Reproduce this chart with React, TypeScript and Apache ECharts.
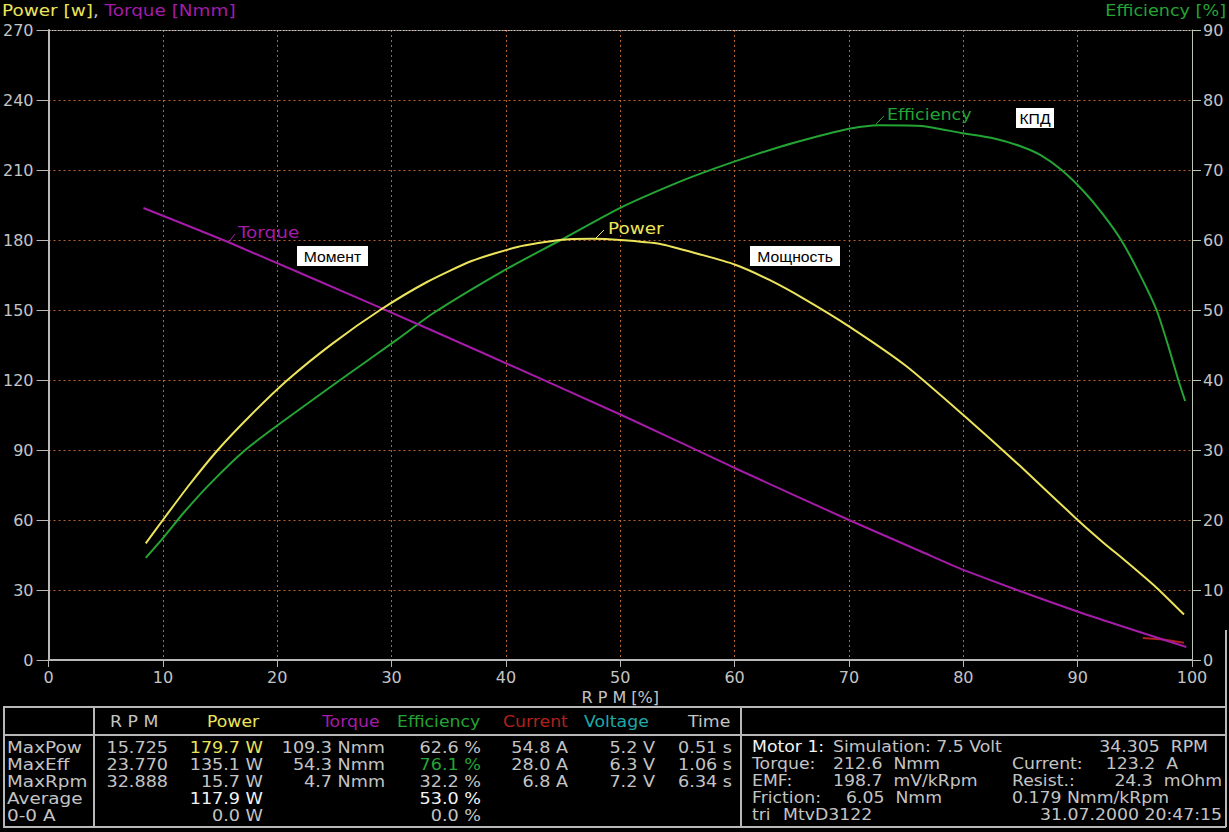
import React, { useEffect, useRef } from "react";
import * as echarts from "echarts";

// ---------- chart data ----------
const rpmPower = [8.5, 10, 12.3, 14.8, 17.7, 20.9, 24.8, 29, 33.1, 37, 41, 44.7, 47.5, 50, 53.5, 57, 60, 63, 66, 70, 75, 80, 85, 90, 92.2, 94.3, 96.9, 99.3];
const powerW = [50, 60, 75, 90, 105, 120, 135.5, 150, 162, 171, 177, 180, 180.5, 180, 178.3, 173.8, 169.5, 163, 155, 143, 126, 105, 83, 60, 50.5, 42, 31, 19.5];

const rpmEff = [8.5, 10.1, 11.8, 14.2, 17.2, 20, 25.5, 30.5, 33.6, 40, 44.8, 50, 55, 58.4, 62, 65.2, 70, 72.6, 76.4, 79.8, 82.7, 85, 86.8, 88.6, 90.5, 92.2, 93.8, 95.4, 96.9, 97.9, 98.8, 99.4];
const effPct = [14.6, 17.6, 21, 25.3, 30, 33.5, 40, 45.8, 49.5, 55.8, 60, 64.6, 68.2, 70.3, 72.3, 73.9, 75.9, 76.4, 76.3, 75.3, 74.5, 73.4, 72.1, 70, 67, 63.7, 60, 55.2, 50, 45, 40, 37];

const rpmTorque = [8.3, 15.9, 29, 37.8, 50.1, 60, 70, 76.4, 80, 90.1, 99.5];
const torqueNmm = [193.7, 178.7, 151, 132, 105, 82.3, 60, 46.3, 38.6, 20.6, 5.6];

const rpmCurrent = [95.7, 97.5, 99.3];
const currentVal = [9.4, 8.8, 7.4];

// axis ranges
const xRange = { min: 0, max: 100, interval: 10 };
const leftRange = { min: 0, max: 270, interval: 30 };
const rightRange = { min: 0, max: 90, interval: 10 };

// ---------- table data ----------
const tableHeaders = ["R P M", "Power", "Torque", "Efficiency", "Current", "Voltage", "Time"];
const rowLabels = ["MaxPow", "MaxEff", "MaxRpm", "Average", "0-0 A"];
const rpmCol = ["15.725", "23.770", "32.888", "", ""];
const powerCol = ["179.7 W", "135.1 W", "15.7 W", "117.9 W", "0.0 W"];
const torqueCol = ["109.3 Nmm", "54.3 Nmm", "4.7 Nmm", "", ""];
const effCol = ["62.6 %", "76.1 %", "32.2 %", "53.0 %", "0.0 %"];
const currentCol = ["54.8 A", "28.0 A", "6.8 A", "", ""];
const voltageCol = ["5.2 V", "6.3 V", "7.2 V", "", ""];
const timeCol = ["0.51 s", "1.06 s", "6.34 s", "", ""];

const motorLeft = ["Motor 1:", "Torque:", "EMF:", "Friction:", "tri"];
const motorMid = ["Simulation: 7.5 Volt", "212.6  Nmm", "198.7  mV/kRpm", "6.05  Nmm", "MtvD3122"];
const motorRightLabel = ["", "Current:", "Resist.:", "0.179 Nmm/kRpm", ""];
const motorRightVal = ["34.305  RPM", "123.2  A", "24.3  mOhm", "", "31.07.2000 20:47:15"];

const C = {
  gray: "#c4c4c4",
  white: "#f4f4f4",
  yellow: "#ece45a",
  purple: "#a41ca8",
  green: "#24a434",
  red: "#b0201c",
  teal: "#20a8a8",
  grid: "#b8622c",
  line: "#b8b8b8",
};
const FONT = '"DejaVu Sans", sans-serif';
const F16 = `16px ${FONT}`;

const pair = (xs: number[], ys: number[]) => xs.map((x, i) => [x, ys[i]]);

function txt(text: string, x: number, y: number, fill: string, align = "left", font = F16, z = 20, scaleX = 1) {
  return {
    type: "text",
    x,
    y,
    z,
    scaleX,
    silent: true,
    style: { text, fill, font, align, textAlign: align, verticalAlign: "middle", textVerticalAlign: "middle" },
  };
}
function ln(x1: number, y1: number, x2: number, y2: number, stroke = C.line, w = 2) {
  return { type: "line", z: 20, silent: true, shape: { x1, y1, x2, y2 }, style: { stroke, lineWidth: w } };
}
function box(text: string, x: number, y: number, w: number, h: number) {
  return [
    { type: "rect", z: 30, silent: true, shape: { x, y, width: w, height: h }, style: { fill: "#ffffff" } },
    txt(text, x + w / 2, y + h / 2 + 1, "#000000", "center", `15px "Liberation Sans", Arial, sans-serif`, 31, 1.05),
  ];
}

function buildGraphic() {
  const g: any[] = [];
  // header titles
  g.push({
    type: "text",
    x: 2,
    y: 10,
    z: 20,
    scaleX: 1.15,
    silent: true,
    style: {
      text: "{p|Power [w]}{c|, }{t|Torque [Nmm]}",
      font: F16,
      verticalAlign: "middle",
      textVerticalAlign: "middle",
      rich: {
        p: { fill: C.yellow, font: F16, color: C.yellow },
        c: { fill: C.gray, font: F16, color: C.gray },
        t: { fill: C.purple, font: F16, color: C.purple },
      },
    },
  });
  g.push(txt("Efficiency [%]", 1226, 10, C.green, "right", F16, 20, 1.1));

  // curve labels with leaders
  g.push(ln(228, 243, 235, 234, C.purple, 1), txt("Torque", 238, 232, C.purple, "left", F16, 20, 1.15));
  g.push(ln(596, 238, 604, 230, C.yellow, 1), txt("Power", 608, 228, C.yellow, "left", F16, 20, 1.15));
  g.push(ln(876, 124, 884, 116, C.green, 1), txt("Efficiency", 887, 114, C.green, "left", F16, 20, 1.1));
  g.push(...box("Момент", 297, 246, 71, 20));
  g.push(...box("Мощность", 750, 246, 90, 20));
  g.push(...box("КПД", 1016, 108, 38, 20));

  // table frame
  g.push(ln(3, 707, 1226, 707));
  g.push(ln(3, 735, 1226, 735));
  g.push(ln(3, 827, 1226, 827));
  g.push(ln(4, 707, 4, 827));
  g.push(ln(94, 707, 94, 827));
  g.push(ln(741, 707, 741, 827));
  g.push(ln(1226, 630, 1226, 827));

  // header
  const headerX = [110, 207, 322, 397, 503, 584, 688];
  const headerColor = [C.gray, C.yellow, C.purple, C.green, C.red, C.teal, C.gray];
  tableHeaders.forEach((h, i) => g.push(txt(h, headerX[i], 722, headerColor[i], "left", F16, 20, 1.08)));

  const rowY = [747, 764, 781, 798, 815];
  const cols = [rpmCol, powerCol, torqueCol, effCol, currentCol, voltageCol, timeCol];
  const colRight = [168, 263, 385, 481, 568, 655, 732];
  rowLabels.forEach((l, r) => g.push(txt(l, 7, rowY[r], C.gray, "left", F16, 20, 1.15)));
  cols.forEach((col, c) => {
    col.forEach((v, r) => {
      if (!v) return;
      let fill = C.gray;
      if (c === 1 && r === 0) fill = C.yellow;
      if ((c === 1 || c === 3) && r === 3) fill = C.white;
      if (c === 3 && r === 1) fill = C.green;
      g.push(txt(v, colRight[c], rowY[r], fill, "right", F16, 20, 1.1));
    });
  });

  // motor info
  motorLeft.forEach((t, r) => g.push(txt(t, 752, rowY[r], r === 0 ? C.white : C.gray, "left", F16, 20, 1.08)));
  motorMid.forEach((t, r) => g.push(txt(t, r === 4 ? 783 : r === 3 ? 846 : 833, rowY[r], C.gray, "left", F16, 20, 1.08)));
  motorRightLabel.forEach((t, r) => t && g.push(txt(t, 1012, rowY[r], C.gray, "left", F16, 20, 1.08)));
  motorRightVal.forEach((t, r) => {
    if (!t) return;
    const right = r === 0 ? 1208 : r === 1 ? 1178 : 1222;
    g.push(txt(t, right, rowY[r], C.gray, "right", F16, 20, 1.08));
  });
  return g;
}

export default function App() {
  const ref = useRef<HTMLDivElement>(null);
  useEffect(() => {
    if (!ref.current) return;
    const chart = echarts.init(ref.current, undefined, { renderer: "svg" });
    const splitLine = { show: true, lineStyle: { color: C.grid, type: [2, 3], width: 1 } };
    const labelStyle = { color: C.gray, fontSize: 16, fontFamily: FONT };
    chart.setOption({
      animation: false,
      backgroundColor: "#000000",
      grid: { left: 48, right: 37, top: 30, bottom: 172 },
      xAxis: {
        type: "value",
        ...xRange,
        name: "R P M [%]",
        nameLocation: "middle",
        nameGap: 25,
        nameTextStyle: { ...labelStyle },
        axisLine: { show: true, onZero: false, lineStyle: { color: C.line, width: 2 } },
        axisTick: { show: true, length: 7, lineStyle: { color: C.line, width: 1 } },
        axisLabel: { ...labelStyle, margin: 9 },
        splitLine,
      },
      yAxis: [
        {
          type: "value",
          position: "left",
          ...leftRange,
          axisLine: { show: true, onZero: false, lineStyle: { color: C.line, width: 2 } },
          axisTick: { show: true, length: 12, lineStyle: { color: C.line, width: 1 } },
          axisLabel: { ...labelStyle, margin: 15 },
          splitLine,
        },
        {
          type: "value",
          position: "right",
          ...rightRange,
          axisLine: { show: true, onZero: false, lineStyle: { color: "#b8c8b4", width: 1 } },
          axisTick: { show: true, length: 9, lineStyle: { color: "#b8c8b4", width: 1 } },
          axisLabel: { ...labelStyle, margin: 11 },
          splitLine: { show: false },
        },
      ],
      series: [
        {
          name: "Current",
          type: "line",
          data: pair(rpmCurrent, currentVal),
          showSymbol: false,
          lineStyle: { color: C.red, width: 2 },
          z: 2,
        },
        {
          name: "Efficiency",
          type: "line",
          yAxisIndex: 1,
          data: pair(rpmEff, effPct),
          showSymbol: false,
          smooth: 0.2,
          lineStyle: { color: C.green, width: 2 },
          z: 3,
        },
        {
          name: "Torque",
          type: "line",
          data: pair(rpmTorque, torqueNmm),
          showSymbol: false,
          smooth: 0.2,
          lineStyle: { color: C.purple, width: 2 },
          z: 4,
        },
        {
          name: "Power",
          type: "line",
          data: pair(rpmPower, powerW),
          showSymbol: false,
          smooth: 0.2,
          lineStyle: { color: C.yellow, width: 2 },
          z: 5,
          markLine: {
            silent: true,
            symbol: "none",
            label: { show: false },
            lineStyle: { color: "#c8c8c8", type: [2, 1], width: 1 },
            data: [{ yAxis: leftRange.max }],
          },
        },
      ],
      graphic: buildGraphic(),
    });
    return () => chart.dispose();
  }, []);
  return (
    <div
      ref={ref}
      style={{ position: "fixed", left: 0, top: 0, width: 1229, height: 832, background: "#000" }}
    />
  );
}
